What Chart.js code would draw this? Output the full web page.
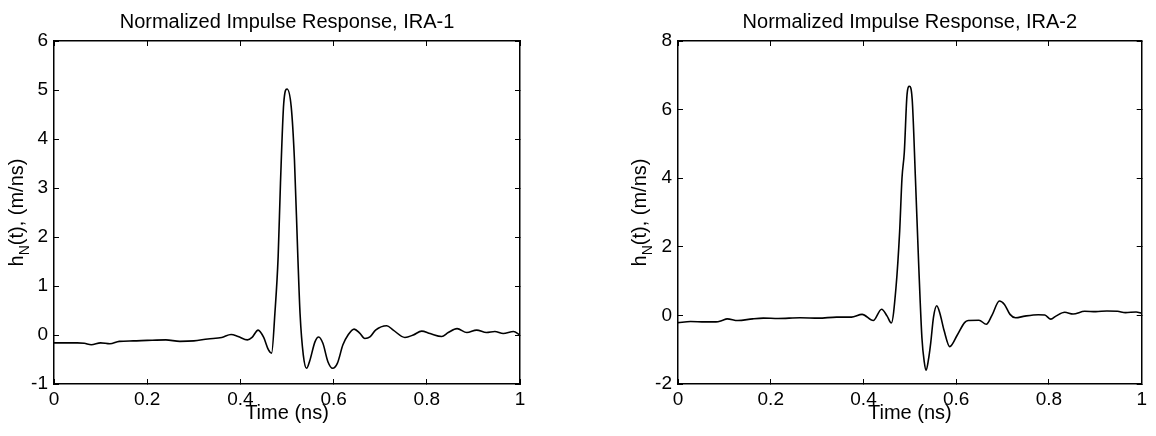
<!DOCTYPE html>
<html>
<head>
<meta charset="utf-8">
<script src="https://cdn.jsdelivr.net/npm/chart.js@4"></script>
<style>
  body { margin: 0; background: #fff; }
  #wrap { position: relative; width: 1156px; height: 436px; }
  canvas { position: absolute; top: 0; }
</style>
</head>
<body>
<div id="wrap">
  <canvas id="ira1" width="578" height="436" style="left:0"></canvas>
  <canvas id="ira2" width="578" height="436" style="left:578px"></canvas>
</div>
<script>
// IRA-1 samples
const ira1Time = [0, 0.03, 0.05, 0.065, 0.08, 0.1, 0.12, 0.14, 0.17, 0.2, 0.24, 0.27, 0.3, 0.33, 0.36, 0.38,
    0.395, 0.415, 0.425, 0.438, 0.45, 0.46, 0.467, 0.474, 0.481, 0.486, 0.493, 0.5, 0.509, 0.516, 0.523,
    0.528, 0.535, 0.542, 0.549, 0.56, 0.568, 0.577, 0.588, 0.598, 0.608, 0.62, 0.631, 0.644, 0.656, 0.667,
    0.678, 0.69, 0.714, 0.728, 0.753, 0.771, 0.789, 0.807, 0.832, 0.846, 0.865, 0.886, 0.907, 0.928,
    0.946, 0.964, 0.986, 1];
const ira1Value = [-0.16, -0.16, -0.16, -0.17, -0.2, -0.16, -0.18, -0.13, -0.12, -0.11, -0.1, -0.13, -0.12, -0.08, -0.05, 0.01,
    -0.03, -0.1, -0.05, 0.1, -0.05, -0.3, -0.37, 0.44, 1.6, 3.1, 4.73, 5.02, 4.66, 3.57, 1.67,
    0.44, -0.41, -0.68, -0.52, -0.14, -0.04, -0.17, -0.55, -0.68, -0.58, -0.2, 0, 0.12, 0.04, -0.07,
    -0.04, 0.1, 0.19, 0.1, -0.05, 0, 0.08, 0.03, -0.03, 0.05, 0.13, 0.05, 0.1, 0.05,
    0.07, 0.03, 0.07, 0];

// IRA-2 samples
const ira2Time = [0, 0.027, 0.058, 0.082, 0.095, 0.106, 0.129, 0.161, 0.184, 0.216, 0.263, 0.303, 0.342, 0.374,
    0.397, 0.421, 0.439, 0.451, 0.46, 0.47, 0.478, 0.483, 0.488, 0.494, 0.499, 0.505, 0.512, 0.519,
    0.526, 0.531, 0.535, 0.54, 0.545, 0.551, 0.558, 0.565, 0.574, 0.586, 0.602, 0.618, 0.626, 0.649,
    0.665, 0.677, 0.693, 0.704, 0.716, 0.728, 0.748, 0.777, 0.791, 0.804, 0.815, 0.834, 0.852, 0.877,
    0.901, 0.925, 0.948, 0.965, 0.988, 1];
const ira2Value = [-0.21, -0.18, -0.19, -0.19, -0.15, -0.1, -0.15, -0.1, -0.08, -0.09, -0.07, -0.08, -0.05, -0.05,
    0.03, -0.15, 0.18, -0.02, -0.22, 0.8, 2.45, 4.0, 4.75, 6.45, 6.68, 6.3, 4.0, 1.5,
    -0.65, -1.35, -1.6, -1.3, -0.8, -0.05, 0.28, 0.05, -0.45, -0.91, -0.58, -0.21, -0.15, -0.14,
    -0.26, 0, 0.42, 0.32, 0.03, -0.07, -0.02, 0.02, 0.01, -0.11, -0.02, 0.09, 0.04, 0.12,
    0.11, 0.13, 0.12, 0.08, 0.1, 0.06];

const timeTicks = [0, 0.2, 0.4, 0.6, 0.8, 1];
const ira1Ticks = [-1, 0, 1, 2, 3, 4, 5, 6];
const ira2Ticks = [-2, 0, 2, 4, 6, 8];

const titles = ['Normalized Impulse Response, IRA-1', 'Normalized Impulse Response, IRA-2'];
const xLabel = 'Time (ns)';
const yLabelParts = ['h', 'N', '(t), (m/ns)'];

const FONT = "'Liberation Sans', Arial, Helvetica, sans-serif";

// y label with a subscript N, drawn rotated next to the y axis
const subscriptLabel = {
    id: 'subscriptLabel',
    afterDraw(chart, args, opts) {
        const ctx = chart.ctx;
        const area = chart.chartArea;
        const big = opts.size + 'px ' + FONT;
        const small = Math.round(opts.size * 0.72) + 'px ' + FONT;
        ctx.save();
        ctx.translate(opts.x, (area.top + area.bottom) / 2);
        ctx.rotate(-Math.PI / 2);
        ctx.fillStyle = '#000';
        ctx.textAlign = 'left';
        ctx.textBaseline = 'alphabetic';
        ctx.font = big;
        const w1 = ctx.measureText(yLabelParts[0]).width;
        const w3 = ctx.measureText(yLabelParts[2]).width;
        ctx.font = small;
        const w2 = ctx.measureText(yLabelParts[1]).width;
        let pos = -(w1 + w2 + w3) / 2;
        ctx.font = big;
        ctx.fillText(yLabelParts[0], pos, 0);
        pos += w1;
        ctx.font = small;
        ctx.fillText(yLabelParts[1], pos, opts.size * 0.3);
        pos += w2;
        ctx.font = big;
        ctx.fillText(yLabelParts[2], pos, 0);
        ctx.restore();
    }
};

function inwardGrid() {
    return { drawOnChartArea: false, drawTicks: true, tickLength: -5, color: '#000', lineWidth: 1 };
}

function frameBorder() {
    return { display: true, color: '#000', width: 1.5 };
}

function makeChart(id, times, values, yTicks, title, yAxisWidth, labelX, padRight) {
    const ctx = document.getElementById(id).getContext('2d');
    return new Chart(ctx, {
        type: 'line',
        data: {
            datasets: [{
                data: times.map((t, i) => ({ x: t, y: values[i] })),
                borderColor: '#000',
                borderWidth: 1.6,
                pointRadius: 0,
                fill: false,
                cubicInterpolationMode: 'monotone'
            }]
        },
        options: {
            responsive: false,
            animation: false,
            devicePixelRatio: 1,
            layout: { padding: { left: 0, right: padRight, top: 0, bottom: 0 } },
            scales: {
                x: {
                    type: 'linear',
                    position: 'bottom',
                    min: 0,
                    max: 1,
                    afterBuildTicks: s => { s.ticks = timeTicks.map(v => ({ value: v })); },
                    afterFit: s => { s.height = 52; },
                    ticks: {
                        color: '#000',
                        padding: 9,
                        maxRotation: 0,
                        autoSkip: false,
                        font: { family: FONT, size: 19 },
                        callback: v => String(v)
                    },
                    grid: inwardGrid(),
                    border: frameBorder(),
                    title: {
                        display: true,
                        text: xLabel,
                        color: '#000',
                        font: { family: FONT, size: 20 },
                        padding: { top: 0, bottom: 11 }
                    }
                },
                xTop: {
                    type: 'linear',
                    position: 'top',
                    min: 0,
                    max: 1,
                    afterBuildTicks: s => { s.ticks = timeTicks.map(v => ({ value: v })); },
                    afterFit: s => { s.height = 0; },
                    ticks: { display: false },
                    grid: inwardGrid(),
                    border: frameBorder()
                },
                y: {
                    type: 'linear',
                    position: 'left',
                    min: yTicks[0],
                    max: yTicks[yTicks.length - 1],
                    afterBuildTicks: s => { s.ticks = yTicks.map(v => ({ value: v })); },
                    afterFit: s => { s.width = yAxisWidth; },
                    ticks: {
                        color: '#000',
                        padding: 11,
                        autoSkip: false,
                        font: { family: FONT, size: 19 },
                        callback: v => String(v)
                    },
                    grid: inwardGrid(),
                    border: frameBorder()
                },
                yRight: {
                    type: 'linear',
                    position: 'right',
                    min: yTicks[0],
                    max: yTicks[yTicks.length - 1],
                    afterBuildTicks: s => { s.ticks = yTicks.map(v => ({ value: v })); },
                    afterFit: s => { s.width = 0; },
                    ticks: { display: false },
                    grid: inwardGrid(),
                    border: frameBorder()
                }
            },
            plugins: {
                legend: { display: false },
                tooltip: { enabled: false },
                title: {
                    display: true,
                    text: title,
                    color: '#000',
                    fullSize: false,
                    font: { family: FONT, size: 20, weight: 'normal' },
                    padding: { top: 10, bottom: 7 }
                },
                subscriptLabel: { x: labelX, size: 20 }
            }
        },
        plugins: [subscriptLabel]
    });
}

makeChart('ira1', ira1Time, ira1Value, ira1Ticks, titles[0], 54, 23, 58);
makeChart('ira2', ira2Time, ira2Value, ira2Ticks, titles[1], 100, 68, 12);
</script>
</body>
</html>
